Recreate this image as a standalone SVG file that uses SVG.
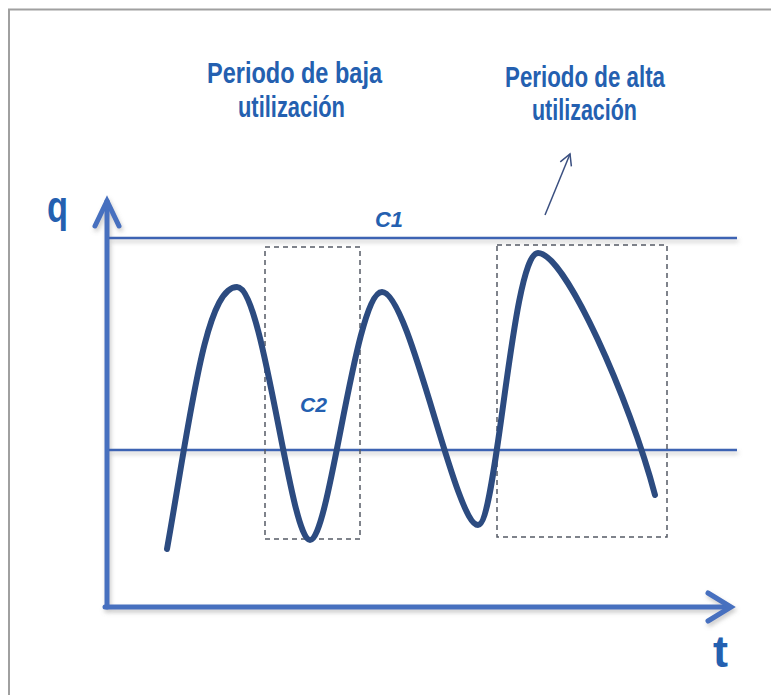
<svg xmlns="http://www.w3.org/2000/svg" width="771" height="695" viewBox="0 0 771 695">
  <style>
    .lbl { font-family: "Liberation Sans Narrow", "Liberation Sans", Arial, sans-serif; font-weight: bold; fill: #2460b0; }
    .head { font-size: 29px; }
    .axis { fill: none; stroke: #4670bf; stroke-width: 5; stroke-linecap: round; stroke-linejoin: miter; }
    .ref { fill: none; stroke: #3d63b3; stroke-width: 2.5; }
    .box { fill: none; stroke: #555b66; stroke-width: 1.5; stroke-dasharray: 5 4; }
    .curve { fill: none; stroke: #2c4b80; stroke-width: 6; stroke-linecap: round; stroke-linejoin: round; }
    .frame { fill: none; stroke: #a0a0a0; stroke-width: 2; }
  </style>
  <defs>
    <filter id="shadow" x="-5%" y="-5%" width="110%" height="120%">
      <feDropShadow dx="1.5" dy="3" stdDeviation="2" flood-color="#8a8a8a" flood-opacity="0.45"/>
    </filter>
    <marker id="openArrow" viewBox="0 0 14 14" refX="12" refY="7" markerWidth="14" markerHeight="14" markerUnits="userSpaceOnUse" orient="auto">
      <path d="M1,1 L12,7 L1,13" fill="none" stroke="#3a4f80" stroke-width="1.5"/>
    </marker>
  </defs>
  <rect width="771" height="695" fill="#ffffff"/>

  <g id="frame">
    <path class="frame" d="M9,695 L9,9.5 L771,9.5"/>
  </g>

  <g id="axes" filter="url(#shadow)">
    <path class="axis" d="M107,607 L107,201"/>
    <path class="axis" d="M95,226 L107,201 L119,226"/>
    <path class="axis" d="M105,607 L729,607"/>
    <path class="axis" d="M708,593 L731,607 L708,621"/>
  </g>

  <g id="reference-lines" filter="url(#shadow)">
    <line class="ref" x1="109" y1="238" x2="737" y2="238"/>
    <line class="ref" x1="109" y1="450" x2="737" y2="450"/>
  </g>

  <g id="box-baja">
    <rect class="box" x="265" y="247" width="95" height="292"/>
  </g>
  <g id="box-alta">
    <rect class="box" x="497" y="245" width="170" height="292"/>
  </g>

  <g id="demand-curve">
    <path class="curve" d="M167,549 C190,420 205,287 237,287 C264,287 290,540 310,540 C330,540 355,292 382,292 C410,292 455,525 478,525 C497,525 512,253 538,253 C565,253 630,400 655,495"/>
  </g>

  <g id="connectors">
    <line x1="545" y1="215" x2="570" y2="154" stroke="#3a4f80" stroke-width="1.5" marker-end="url(#openArrow)"/>
  </g>

  <g id="label-q">
    <text class="lbl" x="47" y="222" font-size="44" textLength="21" lengthAdjust="spacingAndGlyphs">q</text>
  </g>
  <g id="label-t">
    <text class="lbl" x="713" y="667" font-size="44" textLength="15" lengthAdjust="spacingAndGlyphs">t</text>
  </g>
  <g id="label-c1">
    <text class="lbl" x="375" y="227" font-size="22" font-style="italic" textLength="28" lengthAdjust="spacingAndGlyphs">C1</text>
  </g>
  <g id="label-c2">
    <text class="lbl" x="300" y="412" font-size="21" font-style="italic" font-weight="normal" textLength="27" lengthAdjust="spacingAndGlyphs">C2</text>
  </g>
  <g id="label-baja">
    <text class="lbl head" x="207" y="83" textLength="175" lengthAdjust="spacingAndGlyphs">Periodo de baja</text>
    <text class="lbl head" x="238" y="117" textLength="107" lengthAdjust="spacingAndGlyphs">utilización</text>
  </g>
  <g id="label-alta">
    <text class="lbl head" x="505" y="87" textLength="160" lengthAdjust="spacingAndGlyphs">Periodo de alta</text>
    <text class="lbl head" x="532" y="120" textLength="105" lengthAdjust="spacingAndGlyphs">utilización</text>
  </g>
</svg>
